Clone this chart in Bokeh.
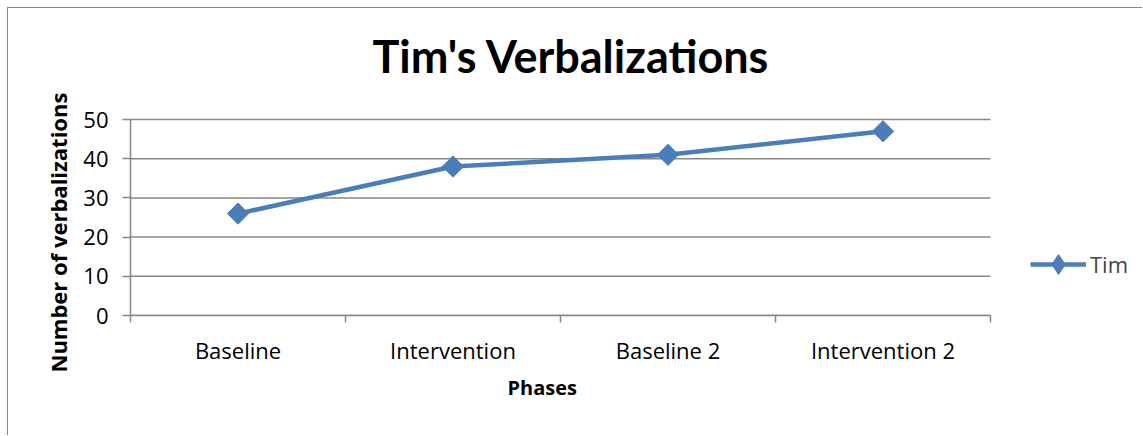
import math
from bokeh.plotting import figure
from bokeh.models import (FixedTicker, Range1d, Legend, LegendItem, ColumnDataSource,
                          Title, Label)
from bokeh.embed import file_html
from bokeh.resources import INLINE

phases = ["Baseline", "Intervention", "Baseline 2", "Intervention 2"]
tim = [26, 38, 41, 47]
y_ticks = [0, 10, 20, 30, 40, 50]

FONT = "Open Sans"
TFONT = "Lato"
GRID = "#878787"
BLUE = "#4A7EBB"

W, H = 1135, 428
L, T, R, B = 122, 0, 5, 121
FRAME_W = W - L - R
FRAME_H = H - T - B
DATA_W = 860                      # pixel width covered by the categories
DATA_H = 196                      # pixel height covered by 0..50
n = len(phases)
y_max = max(y_ticks)
x_end = n * FRAME_W / DATA_W      # extra room on the right for the legend
y_end = y_max * FRAME_H / DATA_H  # extra room on top for the title

xs = [i + 0.5 for i in range(n)]
src = ColumnDataSource(dict(x=xs, y=tim))

p = figure(width=W, height=H, output_backend="svg", toolbar_location=None,
           x_range=Range1d(0, x_end), y_range=Range1d(0, y_end),
           min_border_left=L, min_border_top=T, min_border_right=R, min_border_bottom=B)
p.styles = {"margin-left": "7px", "margin-top": "7px",
            "border-left": "1px solid #878787", "border-top": "1px solid #878787"}
p.outline_line_color = None
p.background_fill_color = "white"
p.border_fill_color = "white"

# title (inside the enlarged frame, screen units from frame bottom-left)
p.add_layout(Label(x=242, y=DATA_H + 64, x_units="screen", y_units="screen",
                   text="Tim's Verbalizations", text_font=TFONT, text_font_style="bold",
                   text_font_size="45px", text_color="black",
                   text_align="left", text_baseline="alphabetic"))

# x axis
p.xaxis.bounds = (0, n)
p.xaxis.ticker = FixedTicker(ticks=xs, minor_ticks=list(range(n + 1)))
p.xaxis.major_label_overrides = {x: name for x, name in zip(xs, phases)}
p.xaxis.major_tick_out = 0
p.xaxis.major_tick_in = 0
p.xaxis.minor_tick_out = 7
p.xaxis.minor_tick_in = 0
p.xaxis.minor_tick_line_color = GRID
p.xaxis.minor_tick_line_width = 1.5
p.xaxis.axis_line_color = GRID
p.xaxis.axis_line_width = 1.5
p.xaxis.major_label_text_font = FONT
p.xaxis.major_label_text_font_size = "22px"
p.xaxis.major_label_text_color = "black"
p.xaxis.major_label_standoff = 12

xlab = Title(text="Phases", align="left", offset=377,
             text_font=FONT, text_font_style="bold", text_font_size="20px",
             text_color="black", standoff=9)
p.add_layout(xlab, "below")

# y axis
p.yaxis.bounds = (0, y_max)
p.yaxis.ticker = FixedTicker(ticks=y_ticks, minor_ticks=[])
p.yaxis.major_tick_out = 8
p.yaxis.major_tick_in = 0
p.yaxis.major_tick_line_color = GRID
p.yaxis.major_tick_line_width = 1.5
p.yaxis.axis_line_color = GRID
p.yaxis.axis_line_width = 1.5
p.yaxis.major_label_text_font = FONT
p.yaxis.major_label_text_font_size = "22px"
p.yaxis.major_label_text_color = "black"
p.yaxis.major_label_standoff = 14

ylab = Title(text="Number of verbalizations", align="left", offset=-57,
             text_font=FONT, text_font_style="bold", text_font_size="22px",
             text_color="black", standoff=16)
p.add_layout(ylab, "left")

# grid lines limited to the category area
p.xgrid.grid_line_color = None
p.ygrid.grid_line_color = None
p.segment(x0=[0] * len(y_ticks), x1=[n] * len(y_ticks), y0=y_ticks, y1=y_ticks,
          line_color=GRID, line_width=1.5, level="underlay")

# diamond used as the legend key (hidden beneath the visible markers)
key = p.scatter("x", "y", source=src, marker="diamond", size=20,
                fill_color=BLUE, line_color=BLUE)
line = p.line("x", "y", source=src, line_color=BLUE, line_width=4.5)
pts = p.scatter("x", "y", source=src, marker="square", size=15, angle=math.pi / 4,
                fill_color=BLUE, line_color=BLUE)

legend = Legend(items=[LegendItem(label="Tim", renderers=[line, key], index=0)],
                location=(900, 26), border_line_color=None, background_fill_alpha=0,
                label_text_font=FONT, label_text_font_size="22px",
                glyph_width=56, glyph_height=50, label_standoff=4, padding=0, margin=0)
p.add_layout(legend)

open("out.html", "w").write(file_html(p, INLINE))
